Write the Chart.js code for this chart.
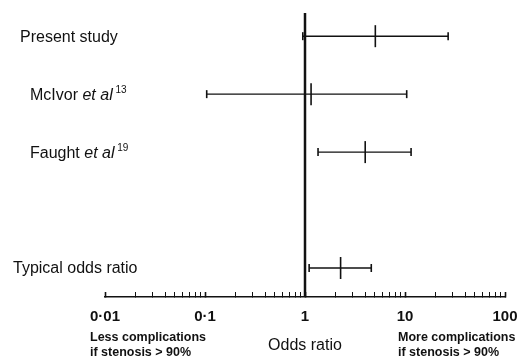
<!DOCTYPE html>
<html>
<head>
<meta charset="utf-8">
<script src="https://cdn.jsdelivr.net/npm/chart.js@4.4.1/dist/chart.umd.min.js"></script>
<style>
  html, body { margin: 0; padding: 0; background: #fff; }
  canvas { display: block; }
</style>
</head>
<body>
<canvas id="forest" width="521" height="363"></canvas>
<script>
// ── DATA ──
const studies = ["Present study", "McIvor et al 13", "Faught et al 19", "Typical odds ratio"];
const rows = [4.5, 3.5, 2.5, 0.5];
const oddsRatio = [5.05, 1.15, 4.0, 2.27];
const lower = [0.95, 0.104, 1.35, 1.1];
const upper = [27, 10.4, 11.5, 4.6];
const xTickValues = [0.01, 0.1, 1, 10, 100];
const xTickLabels = ["0·01", "0·1", "1", "10", "100"];

// label pieces (text, style) for the left-hand study names
const labelParts = [
    [["Present study", ""]],
    [["McIvor ", ""], ["et al", "italic"], [" 13", "sup"]],
    [["Faught ", ""], ["et al", "italic"], [" 19", "sup"]],
    [["Typical odds ratio", ""]]
];
const labelIndent = [20, 30, 30, 13];

const INK = "#111";
const FONT = "'Liberation Sans', Arial, sans-serif";

// ── datasets ──
const datasets = [];

// línea de no efecto (OR = 1)
datasets.push({
    data: [{ x: 1, y: 0 }, { x: 1, y: 4.9 }],
    showLine: true, borderColor: INK, borderWidth: 2.5, pointRadius: 0
});

// intervalos de confianza
studies.forEach((s, i) => {
    datasets.push({
        data: [{ x: lower[i], y: rows[i] }, { x: upper[i], y: rows[i] }],
        showLine: true, borderColor: INK, borderWidth: 1.4,
        pointStyle: "line", pointRotation: 90, pointRadius: 4,
        pointBorderColor: INK, pointBorderWidth: 1.6
    });
});

// estimación puntual
datasets.push({
    data: studies.map((s, i) => ({ x: oddsRatio[i], y: rows[i] })),
    showLine: false, pointStyle: "line", pointRotation: 90, pointRadius: 11,
    pointBorderColor: INK, pointBorderWidth: 1.6
});

// ── textos a mano ──
const textPlugin = {
    id: "forestText",
    afterDraw(chart) {
        const ctx = chart.ctx;
        const y = chart.scales.y;
        ctx.save();
        ctx.fillStyle = INK;
        ctx.textBaseline = "middle";
        ctx.textAlign = "left";
        labelParts.forEach((parts, i) => {
            let x = labelIndent[i];
            const py = y.getPixelForValue(rows[i]) + 1;
            parts.forEach(([t, style]) => {
                let dy = 0;
                if (style === "italic") ctx.font = "italic 16px " + FONT;
                else if (style === "sup") { ctx.font = "10px " + FONT; dy = -5; }
                else ctx.font = "16px " + FONT;
                ctx.fillText(t, x, py + dy);
                x += ctx.measureText(t).width;
            });
        });

        ctx.font = "bold 12.5px " + FONT;
        ctx.textBaseline = "middle";
        ctx.fillText("Less complications", 90, 338);
        ctx.fillText("if stenosis > 90%", 90, 353);
        ctx.fillText("More complications", 398, 338);
        ctx.fillText("if stenosis > 90%", 398, 353);
        ctx.restore();
    }
};

new Chart(document.getElementById("forest"), {
    type: "scatter",
    data: { datasets },
    plugins: [textPlugin],
    options: {
        responsive: false,
        animation: false,
        devicePixelRatio: 1,
        layout: { padding: { left: 105, right: 16, top: 13, bottom: 0 } },
        plugins: { legend: { display: false }, tooltip: { enabled: false } },
        scales: {
            x: {
                type: "logarithmic",
                min: 0.01, max: 100,
                afterBuildTicks(scale) {
                    const t = [];
                    for (let d = 0.01; d < 100; d *= 10) {
                        for (let k = 1; k < 10; k++) t.push({ value: +(d * k).toPrecision(3) });
                    }
                    t.push({ value: 100 });
                    scale.ticks = t;
                },
                afterFit(scale) {
                    scale.height = 66;
                    scale.paddingLeft = 0;
                    scale.paddingRight = 0;
                },
                ticks: {
                    autoSkip: false, maxRotation: 0, padding: 16, color: INK,
                    font: { family: FONT, size: 15, weight: "bold" },
                    callback(v) {
                        const i = xTickValues.findIndex(t => Math.abs(t - v) / t < 1e-6);
                        return i >= 0 ? xTickLabels[i] : "";
                    }
                },
                grid: {
                    drawOnChartArea: false, tickLength: -5, tickColor: INK,
                    tickWidth: ctx => (ctx.tick && xTickValues.some(t => Math.abs(t - ctx.tick.value) / t < 1e-6)) ? 1.6 : 1
                },
                border: { display: true, color: INK, width: 1.5 },
                title: {
                    display: true, text: "Odds ratio", color: INK,
                    font: { family: FONT, size: 16 }, padding: { top: 0, bottom: 8 }
                }
            },
            y: { type: "linear", min: 0, max: 4.9, display: false }
        }
    }
});
</script>
</body>
</html>
